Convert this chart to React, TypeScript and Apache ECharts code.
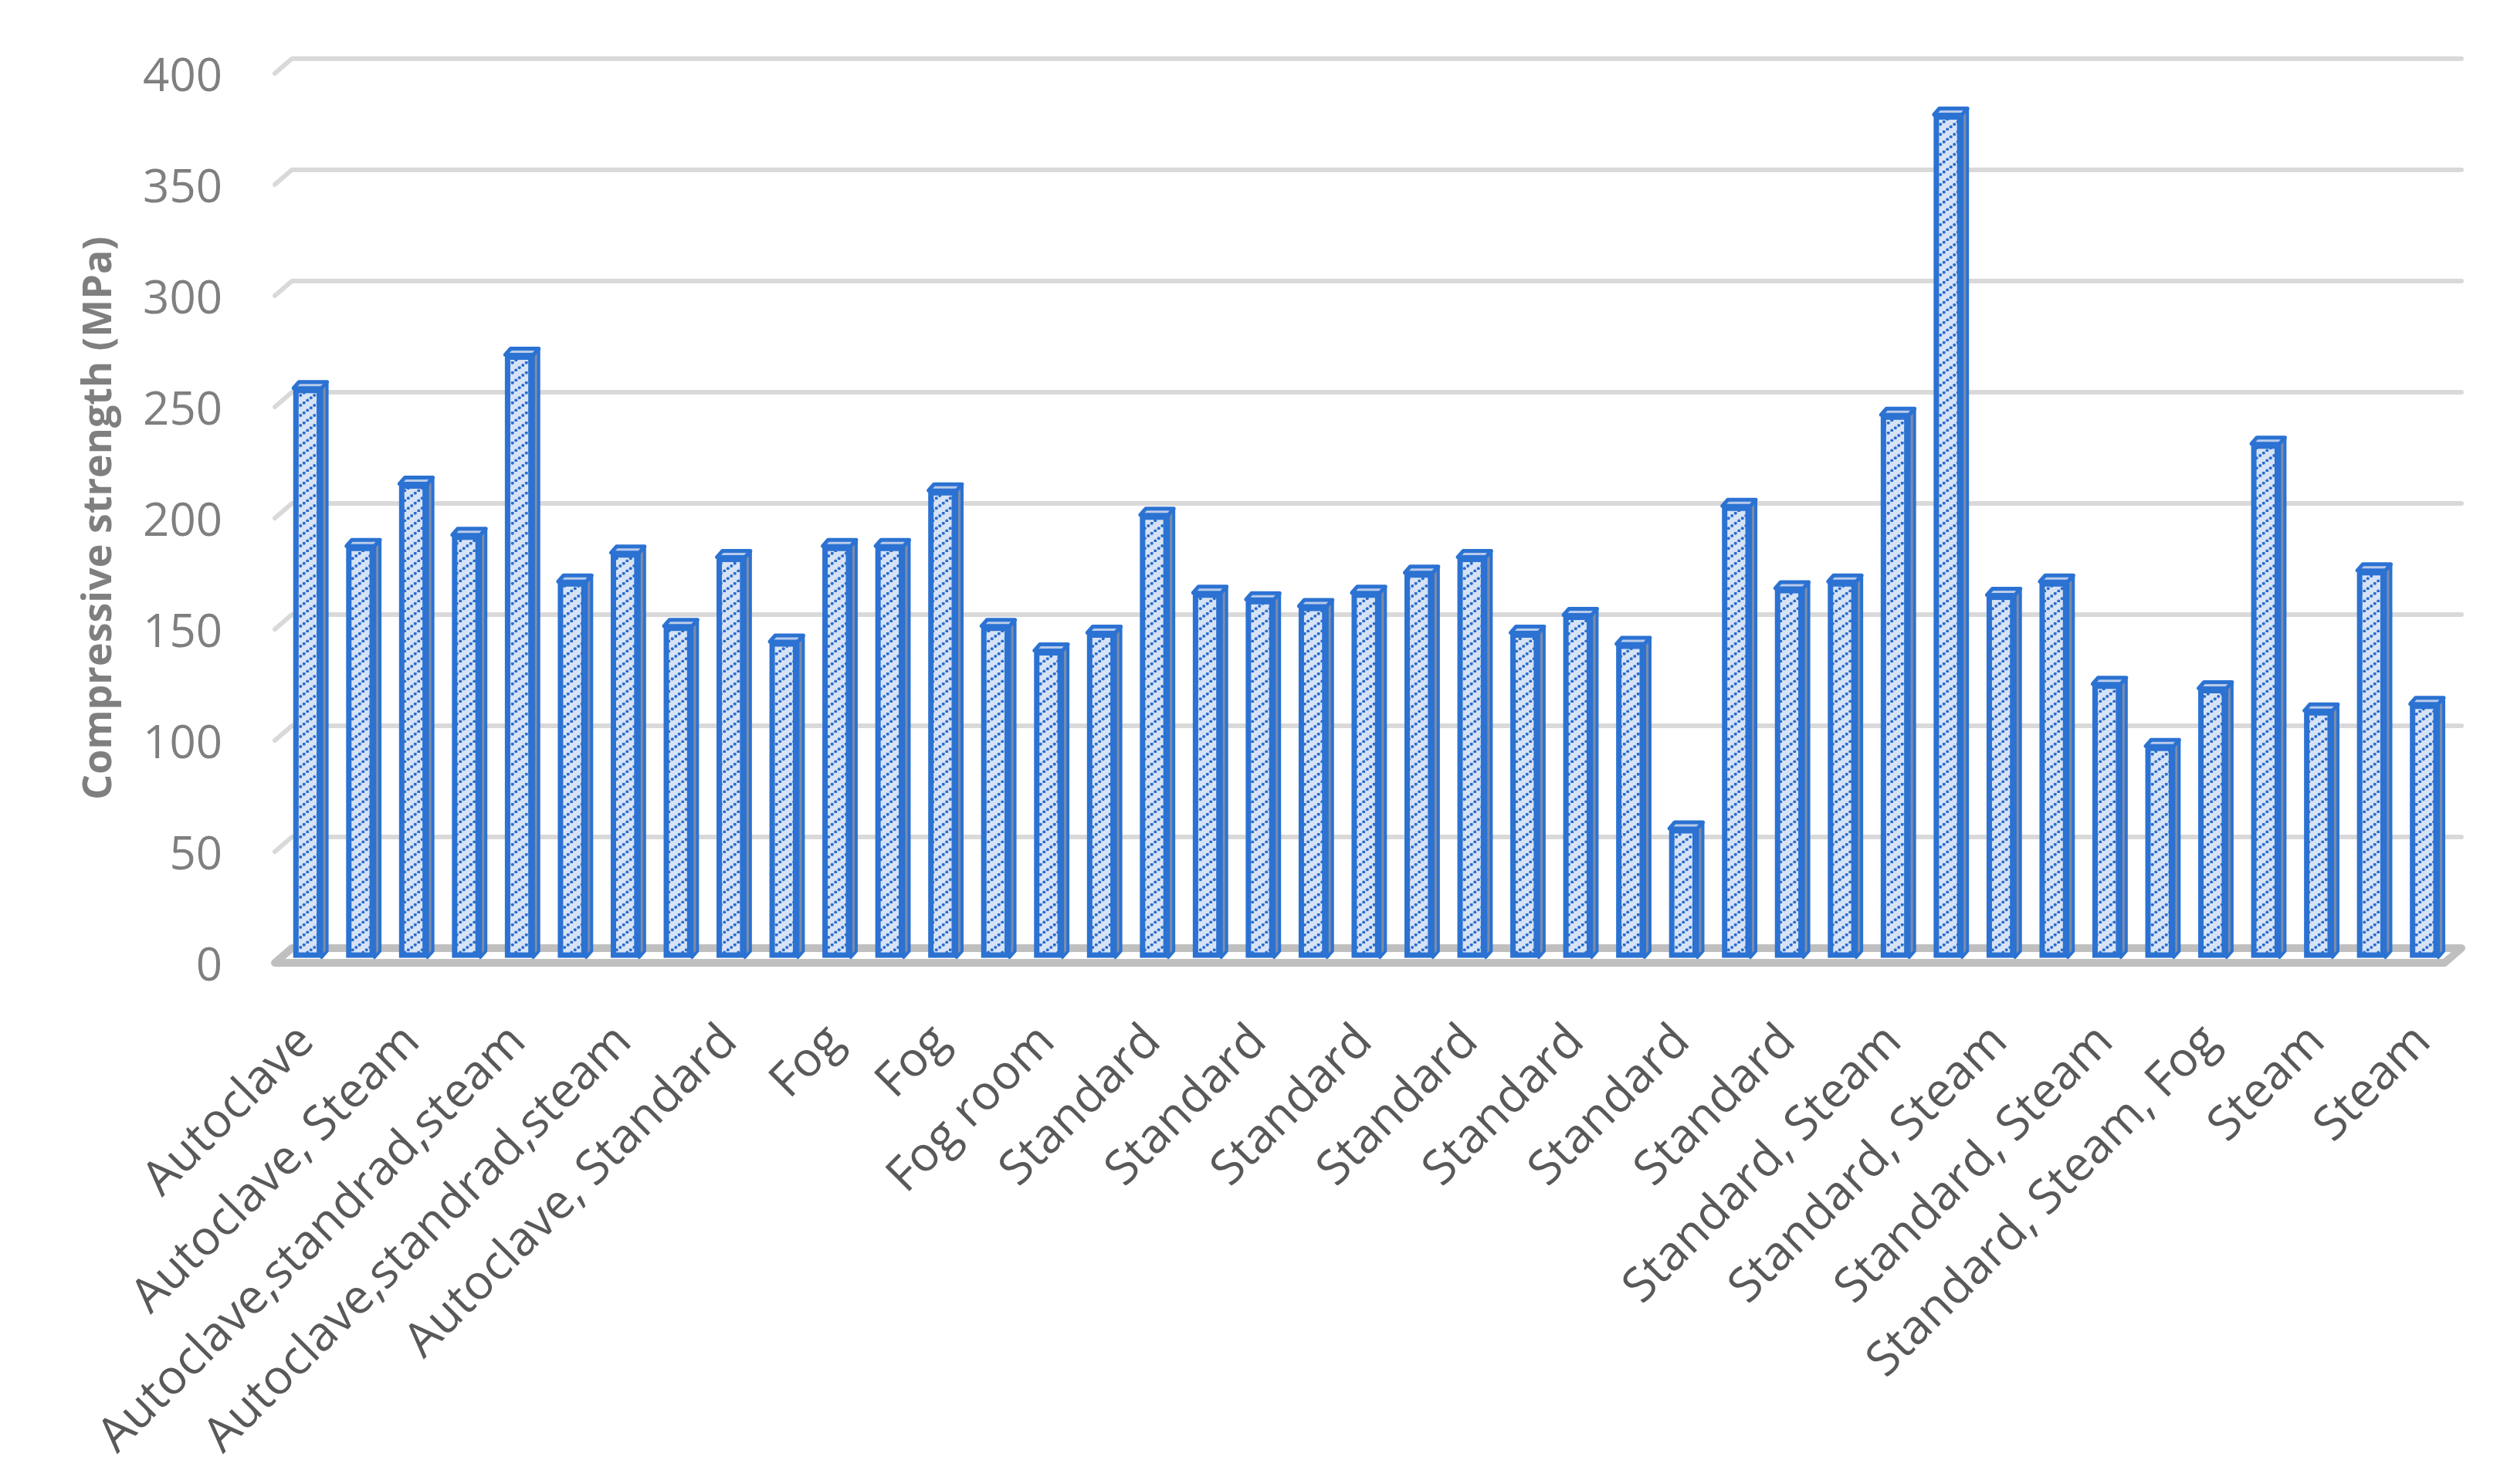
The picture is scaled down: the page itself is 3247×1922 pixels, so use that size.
import React, { useEffect, useRef } from 'react';
import * as echarts from 'echarts';

const categories: string[] = [
  'Autoclave', 'Autoclave',
  'Autoclave, Steam', 'Autoclave, Steam',
  'Autoclave,standrad,steam', 'Autoclave,standrad,steam', 'Autoclave,standrad,steam',
  'Autoclave, Standard', 'Autoclave, Standard',
  'Fog', 'Fog', 'Fog', 'Fog',
  'Fog room', 'Fog room',
  'Standard', 'Standard', 'Standard', 'Standard', 'Standard', 'Standard', 'Standard',
  'Standard', 'Standard', 'Standard', 'Standard', 'Standard', 'Standard', 'Standard',
  'Standard, Steam', 'Standard, Steam', 'Standard, Steam', 'Standard, Steam', 'Standard, Steam', 'Standard, Steam',
  'Standard, Steam, Fog', 'Standard, Steam, Fog',
  'Steam', 'Steam', 'Steam', 'Steam',
];

const strength: number[] = [
  256, 185, 213, 190, 271, 169, 182, 149, 180, 142,
  185, 185, 210, 149, 138, 146, 199, 164, 161, 158,
  164, 173, 180, 146, 154, 141, 58, 203, 166, 169,
  244, 379, 163, 169, 123, 95, 121, 231, 111, 174,
  114,
];

const yTicks: number[] = [0, 50, 100, 150, 200, 250, 300, 350, 400];

const FONT = '"Open Sans", "Noto Sans", sans-serif';
const DX = 22;
const DY = -19;
const BAR_PLANE = 0.37;
const BAR_BLUE = '#2b72d2';

function makeHatch(): HTMLCanvasElement {
  const c = document.createElement('canvas');
  c.width = 18;
  c.height = 13;
  const ctx = c.getContext('2d')!;
  ctx.fillStyle = '#d6e2f5';
  ctx.fillRect(0, 0, 18, 13);
  ctx.fillStyle = '#2a6ccc';
  [0.125, 0.375, 0.625, 0.875].forEach((t) => {
    ctx.beginPath();
    ctx.arc(18 * t, 13 - 13 * t, 2, 0, Math.PI * 2);
    ctx.fill();
  });
  return c;
}

export default function App() {
  const ref = useRef<HTMLDivElement>(null);
  useEffect(() => {
    const chart = echarts.init(ref.current!, null, { renderer: 'svg' });
    const hatch = makeHatch();

    const gridItem = (params: any, api: any) => {
      const cs = params.coordSys;
      const L = cs.x;
      const R = cs.x + cs.width;
      const v = api.value(1);
      const y = api.coord([0, v])[1];
      if (v === 0) {
        return {
          type: 'polygon',
          shape: { points: [[L, y], [R, y], [R + DX, y + DY], [L + DX, y + DY]] },
          style: { fill: 'none', stroke: '#bfbfbf', lineWidth: 10, lineJoin: 'round' },
        };
      }
      return {
        type: 'polyline',
        shape: { points: [[L, y], [L + DX, y + DY], [R + DX, y + DY]] },
        style: { fill: 'none', stroke: '#d9d9d9', lineWidth: 6, lineJoin: 'round', lineCap: 'round' },
      };
    };

    const barItem = (params: any, api: any) => {
      const i = api.value(0);
      const v = api.value(1);
      const base = api.coord([i, 0]);
      const top = api.coord([i, v]);
      const band = api.size([1, 0])[0];
      const w = band * 0.53;
      const cx = base[0] + DX * BAR_PLANE;
      const yb = base[1] + DY * BAR_PLANE;
      const yt = top[1] + DY * BAR_PLANE;
      const x0 = cx - w / 2;
      const x1 = cx + w / 2;
      const sx = 7;
      const sy = -8;
      return {
        type: 'group',
        children: [
          {
            type: 'polygon',
            shape: { points: [[x1, yb], [x1 + sx, yb + sy], [x1 + sx, yt + sy], [x1, yt]] },
            style: { fill: '#7d8da8', stroke: BAR_BLUE, lineWidth: 4, lineJoin: 'round' },
          },
          {
            type: 'polygon',
            shape: { points: [[x0, yt], [x0 + sx, yt + sy], [x1 + sx, yt + sy], [x1, yt]] },
            style: { fill: '#b9cbea', stroke: BAR_BLUE, lineWidth: 5, lineJoin: 'round' },
          },
          {
            type: 'rect',
            shape: { x: x0 + 3, y: yt + 3, width: w - 6, height: Math.max(0, yb - yt - 6) },
            style: { fill: { image: hatch, repeat: 'repeat' }, stroke: BAR_BLUE, lineWidth: 7 },
          },
        ],
      };
    };

    chart.setOption({
      animation: false,
      backgroundColor: '#ffffff',
      grid: { left: 356, right: 81, top: 95, bottom: 675, containLabel: false },
      xAxis: {
        type: 'category',
        data: categories,
        axisLine: { show: false },
        axisTick: { show: false },
        splitLine: { show: false },
        axisLabel: {
          interval: 1,
          rotate: 45,
          align: 'right',
          verticalAlign: 'top',
          margin: 46,
          padding: [0, 28, 0, 0],
          fontSize: 62,
          color: '#595959',
          fontFamily: FONT,
        },
      },
      yAxis: {
        type: 'value',
        min: 0,
        max: 400,
        interval: 50,
        axisLine: { show: false },
        axisTick: { show: false },
        splitLine: { show: false },
        axisLabel: { fontSize: 60, color: '#7f7f7f', margin: 68, fontFamily: FONT },
        name: 'Compressive strength (MPa)',
        nameLocation: 'middle',
        nameGap: 207,
        nameTextStyle: {
          fontSize: 52,
          fontWeight: 'bold',
          color: '#7f7f7f',
          fontFamily: FONT,
        },
      },
      series: [
        {
          type: 'custom',
          name: 'grid',
          silent: true,
          z: 1,
          encode: { x: 0, y: 1 },
          data: yTicks.map((v) => [0, v]),
          renderItem: gridItem,
        },
        {
          type: 'custom',
          name: 'Compressive strength',
          z: 3,
          encode: { x: 0, y: 1 },
          data: strength.map((v, i) => [i, v]),
          renderItem: barItem,
        },
      ],
    });
    return () => chart.dispose();
  }, []);
  return (
    <div
      ref={ref}
      style={{ position: 'absolute', left: 0, top: 0, width: 3247, height: 1922, background: '#fff' }}
    />
  );
}
